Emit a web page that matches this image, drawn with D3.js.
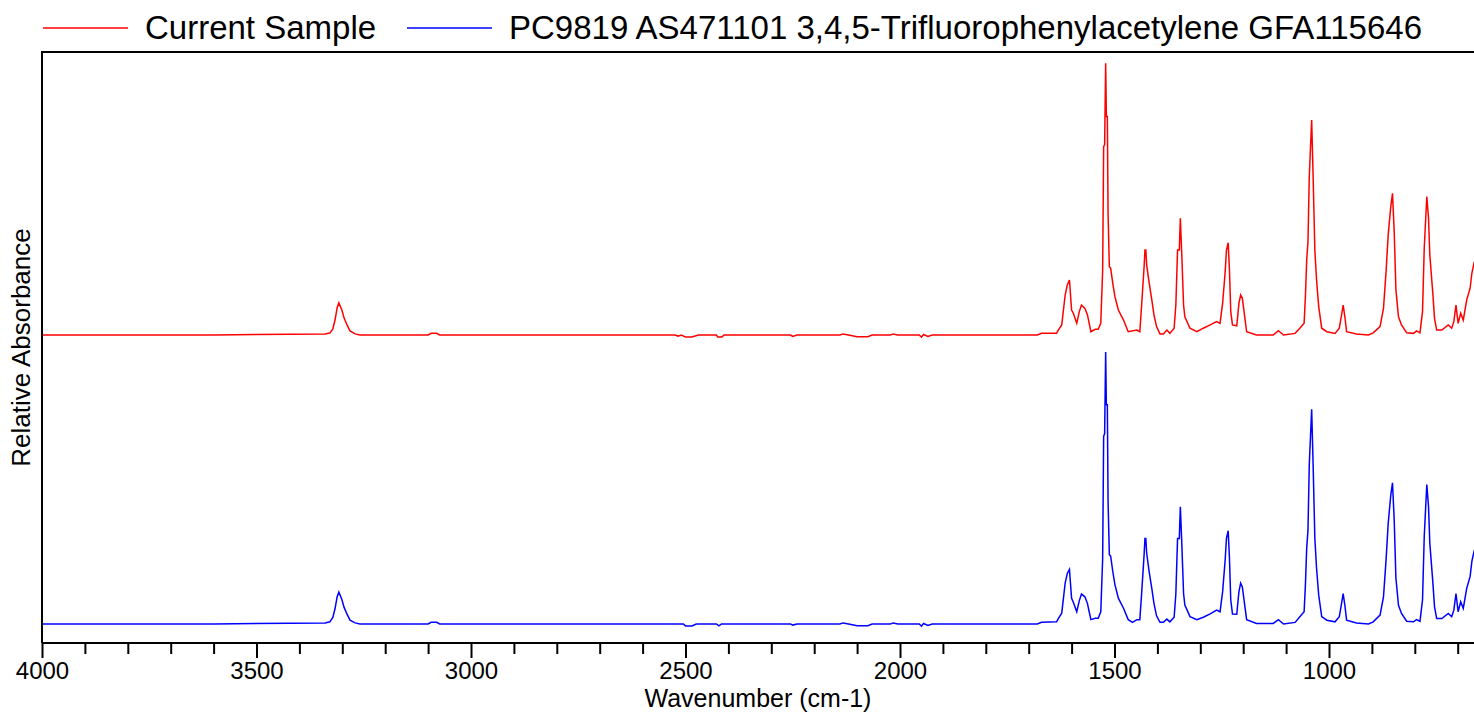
<!DOCTYPE html>
<html>
<head>
<meta charset="utf-8">
<script src="https://cdn.jsdelivr.net/npm/d3@7"></script>
<style>
  body { margin: 0; background: #fff; }
  svg { display: block; font-family: "Liberation Sans", Arial, sans-serif; }
</style>
</head>
<body>
<div id="chart"></div>
<script>
// wavenumber (cm-1), relative absorbance (0 = baseline, 1 = tallest band)
const sampleSpectrum = [
  [4000, 0], [3600, 0], [3340, 0.004], [3329, 0.007], [3322, 0.022], [3317, 0.055], [3312, 0.1],
  [3308, 0.118], [3301, 0.092], [3296, 0.063], [3289, 0.037], [3282, 0.015], [3270, 0.004], [3259, 0],
  [3100, 0], [3093, 0.006], [3080, 0.006], [3073, 0], [2525, 0], [2517, -0.004], [2510, 0],
  [2500, -0.007], [2485, -0.007], [2470, 0], [2428, 0], [2425, -0.007], [2415, -0.007], [2410, 0],
  [2255, 0], [2250, -0.005], [2240, 0], [2140, 0], [2133, 0.004], [2120, 0], [2100, -0.006],
  [2075, -0.006], [2065, 0], [2022, 0], [2016, 0.004], [2005, 0], [1955, 0], [1950, -0.008],
  [1945, 0.002], [1935, -0.005], [1925, 0], [1680, 0], [1670, 0.006], [1635, 0.006],
  [1631, 0.018], [1623, 0.037], [1619, 0.092], [1615, 0.147], [1610, 0.184], [1605, 0.202],
  [1600, 0.092], [1596, 0.08], [1588, 0.043], [1582, 0.086], [1577, 0.11], [1569, 0.098],
  [1563, 0.074], [1559, 0.043], [1555, 0.012], [1545, 0.021], [1538, 0.021], [1532, 0.043],
  [1527.6, 0.238], [1525.3, 0.692], [1523, 0.7], [1520.6, 0.999], [1519, 0.803], [1516.7, 0.803],
  [1515, 0.447], [1512, 0.251], [1509, 0.246], [1504, 0.19], [1499, 0.141], [1491, 0.092],
  [1479, 0.055], [1468, 0.012], [1448, 0.018], [1441, 0.012], [1437, 0.104], [1431, 0.251],
  [1429, 0.3125], [1427, 0.3125], [1425, 0.257], [1419, 0.19], [1413, 0.129], [1408, 0.074],
  [1402, 0.031], [1394, 0.004], [1386, 0.004], [1378, 0.018], [1371, 0.006], [1361, 0.025],
  [1357, 0.11], [1353, 0.3125], [1349, 0.3125], [1346.5, 0.429], [1343, 0.288], [1339, 0.11],
  [1336, 0.067], [1324, 0.025], [1308, 0.012], [1293, 0.025], [1277, 0.037], [1262, 0.049],
  [1254, 0.043], [1248, 0.116], [1242, 0.233], [1239, 0.3125], [1235, 0.339], [1232, 0.238],
  [1229, 0.086], [1225, 0.037], [1215, 0.034], [1210, 0.116], [1206, 0.147], [1202, 0.135],
  [1197, 0.074], [1192, 0.012], [1169, 0], [1130, 0], [1118, 0.016], [1106, 0], [1079, 0.006],
  [1068, 0.025], [1058, 0.043], [1055, 0.141], [1052, 0.275], [1049, 0.343], [1046, 0.582],
  [1040.4, 0.79], [1037, 0.582], [1033, 0.3125], [1029, 0.202], [1024, 0.104], [1017, 0.025],
  [1005, 0.012], [986, 0.006], [976, 0.025], [970, 0.08], [967, 0.11], [963, 0.067], [959, 0.012],
  [936, 0.004], [908, 0], [897, 0.008], [881, 0.031], [873, 0.098], [867, 0.233], [862, 0.368],
  [856, 0.472], [852, 0.521], [848, 0.38], [844, 0.166], [838, 0.067], [831, 0.037], [819, 0.008],
  [803, 0.006], [796, 0.015], [788, 0.008], [782, 0.086], [778, 0.319], [772, 0.509], [768, 0.429],
  [765, 0.294], [758, 0.153], [754, 0.061], [749, 0.018], [737, 0.018], [722, 0.037], [714, 0.025],
  [709, 0.049], [704, 0.11], [699, 0.043], [693, 0.08], [687, 0.055], [679, 0.129], [671, 0.172],
  [667, 0.227], [662, 0.264], [655, 0.3]
];

const librarySpectrum = [
  [4000, 0], [3600, 0], [3340, 0.004], [3329, 0.008], [3322, 0.024], [3317, 0.056], [3312, 0.1],
  [3308, 0.117], [3301, 0.09], [3296, 0.062], [3289, 0.036], [3282, 0.014], [3270, 0.004], [3259, 0],
  [3100, 0], [3093, 0.006], [3080, 0.006], [3073, 0], [2505, 0], [2500, -0.007], [2485, -0.007],
  [2475, 0], [2428, 0], [2422, -0.007], [2416, 0], [2255, 0], [2250, -0.004], [2240, 0],
  [2140, 0], [2133, 0.004], [2120, 0], [2100, -0.006], [2075, -0.006], [2065, 0], [2022, 0],
  [2016, 0.004], [2005, 0], [1955, 0], [1950, -0.008], [1945, 0.002], [1935, -0.005], [1925, 0],
  [1680, 0], [1670, 0.006], [1635, 0.008], [1631, 0.02], [1623, 0.04], [1619, 0.095], [1615, 0.15],
  [1610, 0.186], [1605, 0.201], [1600, 0.094], [1596, 0.08], [1588, 0.045], [1582, 0.086],
  [1577, 0.11], [1569, 0.1], [1563, 0.075], [1559, 0.045], [1555, 0.016], [1545, 0.021],
  [1538, 0.021], [1532, 0.045], [1527.6, 0.24], [1525.3, 0.69], [1523, 0.7], [1520.6, 1.0],
  [1519, 0.806], [1516.7, 0.806], [1515, 0.45], [1512, 0.255], [1509, 0.25], [1504, 0.193],
  [1499, 0.145], [1491, 0.095], [1479, 0.058], [1468, 0.016], [1458, 0.006], [1448, 0.016],
  [1441, 0.016], [1437, 0.106], [1431, 0.255], [1429, 0.314], [1427, 0.314], [1425, 0.26],
  [1419, 0.19], [1413, 0.13], [1408, 0.076], [1402, 0.03], [1394, 0.006], [1386, 0.006],
  [1378, 0.018], [1371, 0.008], [1361, 0.025], [1357, 0.11], [1353, 0.314], [1349, 0.314],
  [1346.5, 0.431], [1343, 0.29], [1339, 0.112], [1336, 0.07], [1324, 0.027], [1308, 0.016],
  [1293, 0.025], [1277, 0.037], [1262, 0.051], [1254, 0.045], [1248, 0.118], [1242, 0.236],
  [1239, 0.315], [1235, 0.343], [1232, 0.24], [1229, 0.088], [1225, 0.037], [1215, 0.036],
  [1210, 0.118], [1206, 0.15], [1202, 0.136], [1197, 0.076], [1192, 0.016], [1169, 0.002],
  [1130, 0.002], [1118, 0.016], [1106, 0], [1079, 0.006], [1068, 0.027], [1058, 0.045],
  [1055, 0.143], [1052, 0.278], [1049, 0.345], [1046, 0.585], [1040.4, 0.789], [1037, 0.585],
  [1033, 0.315], [1029, 0.205], [1024, 0.106], [1017, 0.027], [1005, 0.014], [986, 0.008],
  [976, 0.027], [970, 0.082], [967, 0.112], [963, 0.069], [959, 0.014], [936, 0.004], [908, 0],
  [897, 0.008], [881, 0.033], [873, 0.1], [867, 0.235], [862, 0.37], [856, 0.474], [852, 0.519],
  [848, 0.382], [844, 0.168], [838, 0.069], [831, 0.039], [819, 0.01], [803, 0.008], [796, 0.016],
  [788, 0.01], [782, 0.088], [778, 0.322], [772, 0.513], [768, 0.432], [765, 0.297], [758, 0.155],
  [754, 0.063], [749, 0.02], [737, 0.02], [722, 0.039], [714, 0.027], [709, 0.051], [704, 0.112],
  [699, 0.045], [693, 0.082], [687, 0.057], [679, 0.131], [671, 0.175], [667, 0.23], [662, 0.266],
  [655, 0.3]
];

const seriesNames = ['Current Sample', 'PC9819 AS471101 3,4,5-Trifluorophenylacetylene GFA115646'];
const seriesColors = ['#ff0000', '#0000ff'];
const majorTicks = [4000, 3500, 3000, 2500, 2000, 1500, 1000];
const minorTicks = d3.range(3900, 650, -100).filter(v => v % 500 !== 0);
const xLabelText = 'Wavenumber (cm-1)';
const yLabelText = 'Relative Absorbance';

const width = 1474, height = 714;
const margin = { top: 52, left: 42, right: 0, bottom: 71 };
const plotBottom = height - margin.bottom;

const svg = d3.select('#chart').append('svg')
    .attr('width', width)
    .attr('height', height);

const xScale = d3.scaleLinear()
    .domain([4000, 650])
    .range([margin.left, margin.left + 3350 * 0.429]);

// each spectrum gets its own band, stacked like the original software does
const yScales = [
  d3.scaleLinear().domain([0, 1]).range([335, 63]),
  d3.scaleLinear().domain([0, 1]).range([624, 352])
];

svg.append('clipPath')
    .attr('id', 'plot-clip')
  .append('rect')
    .attr('x', margin.left)
    .attr('y', margin.top)
    .attr('width', width - margin.left)
    .attr('height', plotBottom - margin.top);

const spectra = [sampleSpectrum, librarySpectrum];

spectra.forEach((data, i) => {
  const line = d3.line()
      .x(d => xScale(d[0]))
      .y(d => yScales[i](d[1]));
  svg.append('path')
      .attr('clip-path', 'url(#plot-clip)')
      .attr('d', line(data))
      .attr('fill', 'none')
      .attr('stroke', seriesColors[i])
      .attr('stroke-width', 1.5)
      .attr('stroke-linejoin', 'miter');
});

// frame: top and left border
svg.append('path')
    .attr('d', `M${margin.left},${plotBottom}V${margin.top}H${width}`)
    .attr('fill', 'none')
    .attr('stroke', '#000')
    .attr('stroke-width', 2);

// minor ticks
svg.append('g')
    .attr('transform', `translate(0,${plotBottom})`)
    .call(d3.axisBottom(xScale).tickValues(minorTicks).tickSize(11).tickFormat(''))
    .call(g => g.select('.domain').remove())
    .call(g => g.selectAll('line').attr('stroke-width', 2));

// major ticks and labels
const xAxis = svg.append('g')
    .attr('transform', `translate(0,${plotBottom})`)
    .call(d3.axisBottom(xScale).tickValues(majorTicks).tickSize(15).tickSizeOuter(0).tickPadding(4).tickFormat(d3.format('d')));

xAxis.select('.domain')
    .attr('d', `M${margin.left},0H${width}`)
    .attr('stroke-width', 2);
xAxis.selectAll('line').attr('stroke-width', 2);
xAxis.selectAll('text')
    .attr('font-size', 24)
    .attr('font-family', '"Liberation Sans", Arial, sans-serif')
    .attr('fill', '#000');

svg.append('text')
    .attr('x', (margin.left + width) / 2)
    .attr('y', 707)
    .attr('text-anchor', 'middle')
    .attr('font-size', 25)
    .text(xLabelText);

svg.append('text')
    .attr('transform', `translate(30,${(margin.top + plotBottom) / 2}) rotate(-90)`)
    .attr('text-anchor', 'middle')
    .attr('font-size', 26)
    .text(yLabelText);

// legend across the top
const legendX = [43, 407];
seriesNames.forEach((name, i) => {
  const g = svg.append('g').attr('transform', `translate(${legendX[i]},28)`);
  g.append('line')
      .attr('x1', 0).attr('x2', 85)
      .attr('stroke', seriesColors[i])
      .attr('stroke-width', 1.6);
  g.append('text')
      .attr('x', 102)
      .attr('y', 11)
      .attr('font-size', 33)
      .attr('fill', '#000')
      .text(name);
});
</script>
</body>
</html>
